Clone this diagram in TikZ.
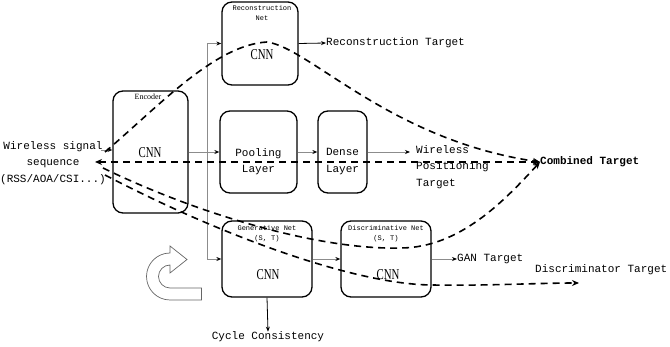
\documentclass[tikz,border=0pt]{standalone}
\usepackage{fontspec}
\setmainfont{Liberation Serif}
\newfontfamily\monof{Liberation Mono}
\newfontfamily\cnnf[FakeStretch=0.72]{Liberation Serif}
\usetikzlibrary{arrows.meta}
\begin{document}
\begin{tikzpicture}[x=1pt,y=-1pt,
 box/.style={draw,line width=1.3pt,rounded corners=10pt,inner sep=0pt},
 garrow/.style={draw=black!45,line width=0.9pt,-{Stealth[length=5pt,width=4pt,color=black]}},
 barrow/.style={draw=black,line width=0.8pt,-{Stealth[length=5pt,width=4pt]}},
 dline/.style={line width=1.6pt,dash pattern=on 7pt off 5pt},
 dhead/.style={-{Stealth[length=7pt,width=6pt]}},
 mono/.style={font=\monof\fontsize{11}{16.5}\selectfont,inner sep=0pt},
 small/.style={font=\monof\fontsize{7}{10}\selectfont,align=center,anchor=north,inner sep=0pt},
 cnn/.style={font=\cnnf\fontsize{15}{15}\selectfont,inner sep=0pt}]
\useasboundingbox (0,0) rectangle (670,347);

% boxes
\node[box,minimum width=75pt,minimum height=122pt] (enc) at (150.5,152) {};
\node[box,minimum width=76pt,minimum height=83pt] (rec) at (260,43.5) {};
\node[box,minimum width=77pt,minimum height=82pt] (pool) at (258.5,152) {};
\node[box,minimum width=49pt,minimum height=82pt] (dense) at (342.5,152) {};
\node[box,minimum width=90pt,minimum height=76pt] (gen) at (267,259) {};
\node[box,minimum width=90pt,minimum height=76pt] (disc) at (386,259) {};

% box texts
\node[font=\fontsize{8}{9}\selectfont,inner sep=0pt] (encl) at (148,97) {Encoder};
\node[cnn] (encc) at (150,153) {CNN};
\node[small] (recl) at (262,5) {Reconstruction\\Net};
\node[cnn] (recc) at (262,55) {CNN};
\node[mono,align=center] (poolt) at (258.5,161.5) {Pooling\\Layer};
\node[mono,align=center] (denset) at (342.5,161.5) {Dense\\Layer};
\node[small] (genl) at (267,225) {Generative Net\\(S, T)};
\node[cnn] (genc) at (268,275) {CNN};
\node[small] (discl) at (386,225) {Discriminative Net\\(S, T)};
\node[cnn] (discc) at (388,275) {CNN};

% outer texts
\node[mono,align=center] (inp) at (53,163) {Wireless signal\\sequence\\(RSS/AOA/CSI...)};
\node[mono,anchor=west] (rect) at (326,43) {Reconstruction Target};
\node[mono,anchor=north west,align=left] (wpt) at (416,145) {Wireless\\Positioning\\Target};
\node[font=\monof\bfseries\fontsize{11}{13}\selectfont,inner sep=0pt,anchor=west] (comb) at (540,162) {Combined Target};
\node[mono,anchor=west] (gant) at (457,259) {GAN Target};
\node[mono,anchor=west] (disct) at (535,270) {Discriminator Target};
\node[mono] (cyc) at (268,337) {Cycle Consistency};

% solid connectors
\coordinate (inA) at (101,150);
\draw[garrow] (inA) -- (inA -| enc.west);
\coordinate (j) at (207,152);
\draw[garrow] (enc.east |- j) -- (pool.west |- j);
\draw[garrow] (j) |- (rec.west);
\draw[garrow] (j) |- (gen.west);
\draw[garrow] (pool.east |- j) -- (dense.west |- j);
\coordinate (wend) at (410,152);
\draw[garrow] (dense.east |- j) -- (wend);
\draw[barrow] (rec.east) -- (rect.west);
\draw[garrow] (gen.east) -- (disc.west);
\draw[garrow] (disc.east) -- (gant.west);
\draw[barrow] (gen.south) -- (cyc.north);

% dashed connectors
\coordinate (inB) at (95,162);
\coordinate (cA) at (105,152);
\coordinate (cB) at (103,168);
\coordinate (cC) at (105,175);
\coordinate (dend) at (579,283);
\draw[dline,{Stealth[length=7pt,width=6pt]}-{Stealth[length=7pt,width=6pt]}] (inB) -- (comb.west);
\draw[dline,dhead] (cA) .. controls (160,105) and (215,45) .. (267,42)
  .. controls (310,48) and (390,140) .. (comb.west);
\draw[dline,dhead] (cB) .. controls (200,215) and (320,250) .. (400,248)
  .. controls (460,248) and (505,200) .. (comb.west);
\draw[dline,dhead] (cC) .. controls (230,240) and (360,285) .. (433,285)
  .. controls (480,286) and (540,283) .. (dend);

% U-turn arrow
\draw[draw=black!60,line width=0.7pt,line join=miter]
  (170,253) -- (170,246) -- (187,259.5) -- (170,273) -- (170,265)
  .. controls (163.65,265) and (158.5,270.15) .. (158.5,276.5)
  .. controls (158.5,282.85) and (163.65,288) .. (170,288)
  -- (201.5,288) -- (201.5,300) -- (170,300)
  .. controls (157,300) and (146.5,289.5) .. (146.5,276.5)
  .. controls (146.5,263.5) and (157,253) .. (170,253) -- cycle;
\end{tikzpicture}
\end{document}
